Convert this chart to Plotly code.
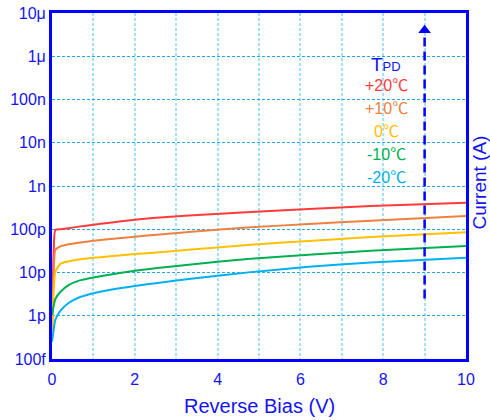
import plotly.graph_objects as go

bias = [0, 0.04, 0.08, 0.2, 0.4, 0.65, 1, 1.35, 2, 2.6, 3.3, 4.8, 6.2, 7.7, 10]
i_p20 = [5e-13, 3e-11, 9.6e-11, 1.0e-10, 1.06e-10, 1.15e-10, 1.27e-10, 1.40e-10, 1.66e-10, 1.87e-10, 2.07e-10, 2.5e-10, 2.94e-10, 3.45e-10, 4.1e-10]
i_p10 = [4e-13, 8.7e-12, 3.3e-11, 4.0e-11, 4.5e-11, 4.9e-11, 5.4e-11, 5.9e-11, 6.7e-11, 7.6e-11, 8.6e-11, 1.11e-10, 1.32e-10, 1.58e-10, 2.02e-10]
i_0 = [4e-13, 3.9e-12, 1.03e-11, 1.58e-11, 1.82e-11, 2.0e-11, 2.19e-11, 2.34e-11, 2.66e-11, 2.95e-11, 3.35e-11, 4.37e-11, 5.37e-11, 6.6e-11, 8.5e-11]
i_m10 = [1.04e-12, 1.68e-12, 2.44e-12, 3.54e-12, 5.1e-12, 6.5e-12, 7.7e-12, 8.8e-12, 1.10e-11, 1.29e-11, 1.51e-11, 2.09e-11, 2.57e-11, 3.2e-11, 4.1e-11]
i_m20 = [2.5e-13, 4.7e-13, 8.0e-13, 1.29e-12, 1.97e-12, 2.64e-12, 3.30e-12, 3.89e-12, 4.9e-12, 5.82e-12, 7.08e-12, 1.02e-11, 1.35e-11, 1.70e-11, 2.2e-11]

labels = ["+20", "+10", "0", "-10", "-20"]
colors = ["#FF3B3B", "#EE8040", "#FFC000", "#00B050", "#00B0F0"]
currents = [i_p20, i_p10, i_0, i_m10, i_m20]

arrow_x = [9, 9]
arrow_y = [2.5e-12, 4.0e-6]

ytick_vals = [1e-13, 1e-12, 1e-11, 1e-10, 1e-9, 1e-8, 1e-7, 1e-6, 1e-5]
ytick_text = ["100f", "1p", "10p", "100p", "1n", "10n", "100n", "1μ", "10μ"]

BLUE = "#0000FF"
TXT = "#1414F0"
FONT = "Arial, Liberation Sans, sans-serif"

fig = go.Figure()
for name, vals, col in zip(labels, currents, colors):
    fig.add_trace(go.Scatter(x=bias, y=vals, mode="lines", name=name,
                             line=dict(color=col, width=2, shape="spline", smoothing=0.5),
                             showlegend=False, hoverinfo="skip"))

fig.add_trace(go.Scatter(x=arrow_x, y=arrow_y, mode="lines",
                         line=dict(color=BLUE, width=2.5, dash="9px,5px"),
                         showlegend=False, hoverinfo="skip"))
fig.add_trace(go.Scatter(x=[arrow_x[1]], y=[arrow_y[1]], mode="markers",
                         marker=dict(symbol="triangle-up", size=11, color=BLUE),
                         showlegend=False, hoverinfo="skip"))

grid_h = "#22A8E8"
grid_v = "#A6E0F4"

fig.update_layout(
    width=490, height=420,
    margin=dict(l=52, r=24, t=13, b=61),
    paper_bgcolor="white", plot_bgcolor="white",
    font=dict(family=FONT, color=TXT, size=16),
    xaxis=dict(range=[0, 10], dtick=2, tick0=0, showline=True, mirror=True,
               linecolor=BLUE, linewidth=3, ticks="", ticklabelstandoff=4,
               showgrid=True, gridcolor=grid_v, gridwidth=2, griddash="3px,2px",
               minor=dict(dtick=1, showgrid=True, gridcolor=grid_v, gridwidth=2, griddash="3px,2px"),
               zeroline=False, tickfont=dict(size=16, color=TXT), automargin=False),
    yaxis=dict(type="log", range=[-13, -5], tickvals=ytick_vals, ticktext=ytick_text,
               showline=True, mirror=True, linecolor=BLUE, linewidth=3, ticks="",
               showgrid=True, gridcolor=grid_h, gridwidth=1.3, griddash="3px,2px",
               zeroline=False, tickfont=dict(size=16, color=TXT), automargin=False),
)

fig.add_annotation(text="Reverse Bias (V)", xref="paper", yref="paper", x=0.5, y=-0.136,
                   showarrow=False, font=dict(size=20, color=TXT),
                   xanchor="center", yanchor="middle")
fig.add_annotation(text="Current (A)", xref="paper", yref="paper", x=1.033, y=0.509,
                   textangle=-90, showarrow=False, font=dict(size=19, color=TXT),
                   xanchor="center", yanchor="middle")

fig.add_annotation(text="T<span style='font-size:13px'>PD</span>", xref="paper", yref="paper",
                   x=0.807, y=0.852, showarrow=False, font=dict(size=19, color=TXT),
                   xanchor="center", yanchor="middle")
label_y = [0.795, 0.727, 0.662, 0.595, 0.529]
for name, col, ly in zip(labels, colors, label_y):
    fig.add_annotation(text=name + "<span style=\"font-family:'Noto Sans CJK SC'\">℃</span>",
                       xref="paper", yref="paper", x=0.807, y=ly,
                       showarrow=False, font=dict(size=16, color=col),
                       xanchor="center", yanchor="middle")

fig.write_html("out.html")
